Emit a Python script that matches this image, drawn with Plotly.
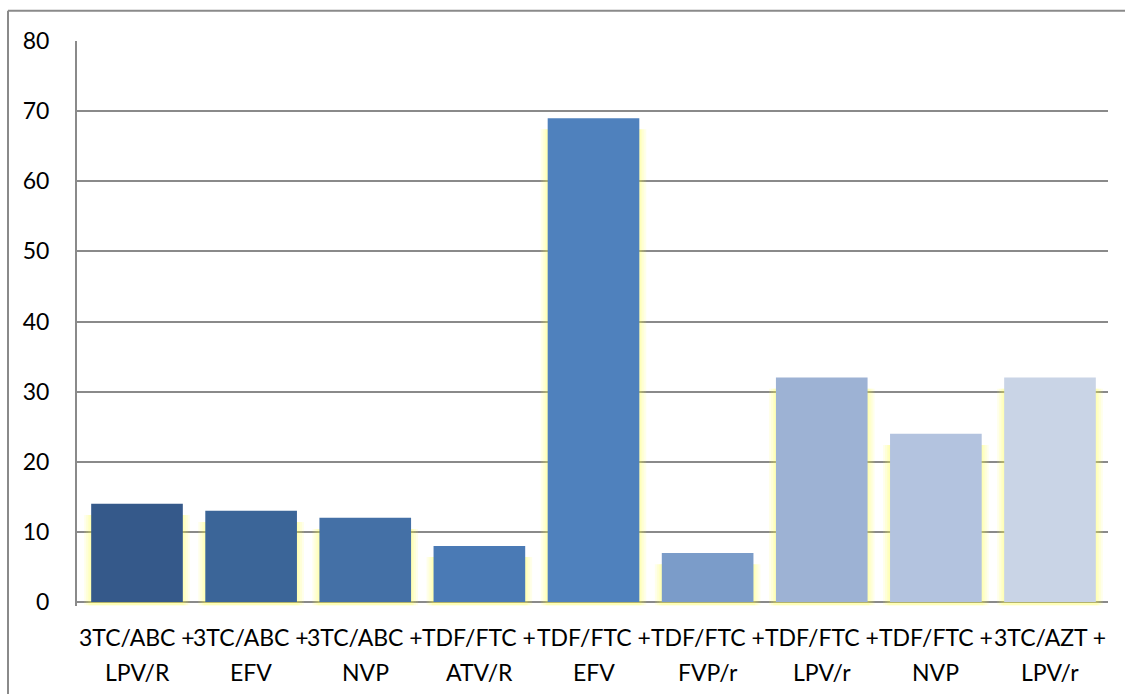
import plotly.graph_objects as go

# Regimens (two-line labels) and their values
line1 = ["3TC/ABC +", "3TC/ABC +", "3TC/ABC +", "TDF/FTC +", "TDF/FTC +",
         "TDF/FTC +", "TDF/FTC +", "TDF/FTC +", "3TC/AZT +"]
line2 = ["LPV/R", "EFV", "NVP", "ATV/R", "EFV", "FVP/r", "LPV/r", "NVP", "LPV/r"]
values = [14, 13, 12, 8, 69, 7, 32, 24, 32]
colors = ["#35598a", "#3b6598", "#4470a6", "#4a7ab5", "#4f81bd",
          "#7b9cc9", "#9db2d4", "#b3c3df", "#c9d4e6"]
y_ticks = [0, 10, 20, 30, 40, 50, 60, 70, 80]

cats = [f"{a} {b}" for a, b in zip(line1, line2)]
bar_w = 0.803
px = 1 / 114.6  # one pixel in category units

fig = go.Figure()

# soft yellow glow behind each bar
for k in [7, 5, 3, 1.5]:
    fig.add_trace(go.Bar(
        x=cats, y=[v - 1.6 + 0.45 for v in values], base=-0.45,
        width=bar_w + 2 * k * px,
        marker=dict(color="rgba(255,255,60,0.11)", line=dict(width=0)),
        hoverinfo="skip", showlegend=False))

fig.add_trace(go.Bar(
    x=cats, y=values, width=bar_w,
    marker=dict(color=colors, line=dict(width=0)),
    showlegend=False))

grid = "#8a8a8a"
font = "Lato, 'Liberation Sans', sans-serif"

annotations = []
for c, a, b in zip(cats, line1, line2):
    annotations.append(dict(x=c, y=0, xref="x", yref="y", text=a, showarrow=False,
                            yshift=-35, yanchor="middle",
                            font=dict(family=font, size=23, color="#000")))
    annotations.append(dict(x=c, y=0, xref="x", yref="y", text=b, showarrow=False,
                            yshift=-70, yanchor="middle",
                            font=dict(family=font, size=23, color="#000")))

fig.update_layout(
    width=1125, height=694,
    margin=dict(l=77, r=17, t=41, b=88),
    paper_bgcolor="white", plot_bgcolor="white",
    barmode="overlay", bargap=0.197,
    annotations=annotations,
    xaxis=dict(type="category", showticklabels=False, showgrid=False,
               showline=False, ticks="", zeroline=False),
    yaxis=dict(range=[-0.57, 80], tickvals=y_ticks, ticktext=[str(t) for t in y_ticks],
               showgrid=True, gridcolor=grid, gridwidth=2,
               zeroline=True, zerolinecolor=grid, zerolinewidth=2,
               showline=True, linecolor=grid, linewidth=2,
               ticks="", ticklabelstandoff=21,
               tickfont=dict(family=font, size=23, color="#000")),
    shapes=[
        # outer chart frame (left and top edges)
        dict(type="line", xref="paper", yref="paper",
             x0=(8 - 77) / 1031, x1=(8 - 77) / 1031,
             y0=(602 - 11) / 561, y1=(602 - 720) / 561,
             line=dict(color=grid, width=2)),
        dict(type="line", xref="paper", yref="paper",
             x0=(8 - 77) / 1031, x1=(1140 - 77) / 1031,
             y0=(602 - 11) / 561, y1=(602 - 11) / 561,
             line=dict(color=grid, width=2)),
    ],
)

fig.write_html("out.html")
